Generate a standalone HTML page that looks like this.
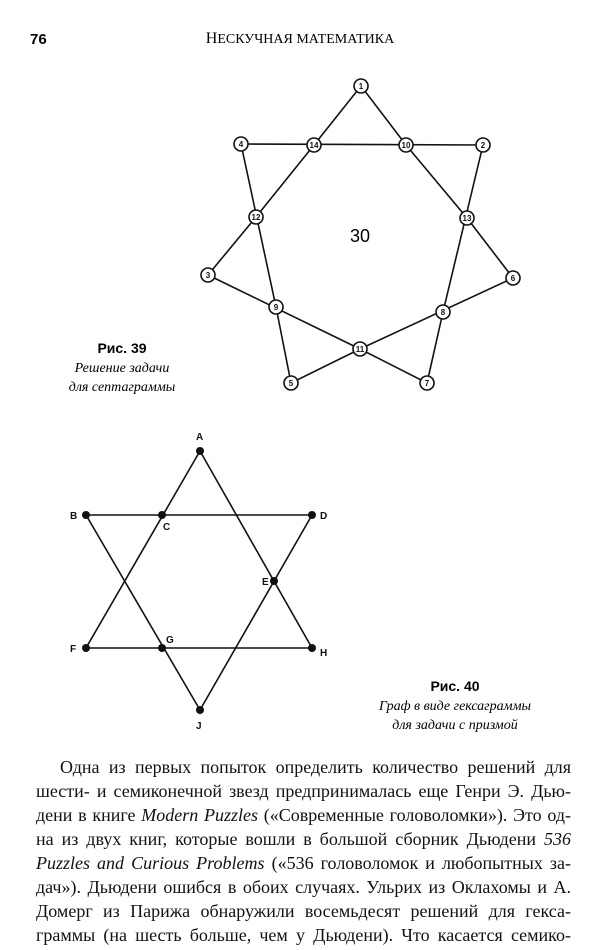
<!DOCTYPE html>
<html><head><meta charset="utf-8"><style>
html,body{margin:0;padding:0;background:#fff;}
body{width:600px;height:950px;position:relative;overflow:hidden;font-family:"Liberation Serif",serif;color:#111;}
svg{position:absolute;left:0;top:0;}
.l{position:absolute;left:36px;width:535px;font-size:18px;line-height:24px;text-align:justify;text-align-last:justify;white-space:nowrap;}
.l i{font-style:italic;}
</style></head><body>
<svg width="600" height="950" viewBox="0 0 600 950" font-family="Liberation Sans, sans-serif">
<text x="30" y="44" font-size="15" font-weight="bold">76</text>
<text x="300" y="43" font-size="14" font-family="Liberation Serif, serif" text-anchor="middle"><tspan font-size="16">Н</tspan>ЕСКУЧНАЯ МАТЕМАТИКА</text>
<g stroke="#111" stroke-width="1.6" fill="none">
<line x1="361" y1="86" x2="314" y2="145"/><line x1="361" y1="86" x2="406" y2="145"/>
<line x1="241" y1="144" x2="483" y2="145"/>
<line x1="241" y1="144" x2="276" y2="307"/><line x1="314" y1="145" x2="256" y2="217"/>
<line x1="256" y1="217" x2="208" y2="275"/><line x1="208" y1="275" x2="360" y2="349"/>
<line x1="276" y1="307" x2="291" y2="383"/><line x1="291" y1="383" x2="360" y2="349"/>
<line x1="360" y1="349" x2="427" y2="383"/><line x1="360" y1="349" x2="513" y2="278"/>
<line x1="427" y1="383" x2="443" y2="312"/><line x1="443" y1="312" x2="483" y2="145"/>
<line x1="406" y1="145" x2="467" y2="218"/><line x1="467" y1="218" x2="513" y2="278"/>
</g>
<g fill="#fff" stroke="#111" stroke-width="1.6">
<circle cx="361" cy="86" r="7"/><circle cx="314" cy="145" r="7"/><circle cx="406" cy="145" r="7"/>
<circle cx="241" cy="144" r="7"/><circle cx="483" cy="145" r="7"/><circle cx="256" cy="217" r="7"/>
<circle cx="467" cy="218" r="7"/><circle cx="208" cy="275" r="7"/><circle cx="513" cy="278" r="7"/>
<circle cx="276" cy="307" r="7"/><circle cx="443" cy="312" r="7"/><circle cx="360" cy="349" r="7"/>
<circle cx="291" cy="383" r="7"/><circle cx="427" cy="383" r="7"/>
</g>
<g font-size="8" font-weight="bold" text-anchor="middle" fill="#111">
<text x="361" y="89">1</text><text x="314" y="148">14</text><text x="406" y="148">10</text>
<text x="241" y="147">4</text><text x="483" y="148">2</text><text x="256" y="220">12</text>
<text x="467" y="221">13</text><text x="208" y="278">3</text><text x="513" y="281">6</text>
<text x="276" y="310">9</text><text x="443" y="315">8</text><text x="360" y="352">11</text>
<text x="291" y="386">5</text><text x="427" y="386">7</text>
</g>
<text x="360" y="242" font-size="18" text-anchor="middle">30</text>
<text x="122" y="353" font-size="14" font-weight="bold" text-anchor="middle">Рис. 39</text>
<text x="122" y="372" font-size="14" font-style="italic" font-family="Liberation Serif, serif" text-anchor="middle">Решение задачи</text>
<text x="122" y="391" font-size="14" font-style="italic" font-family="Liberation Serif, serif" text-anchor="middle">для септаграммы</text>
<g stroke="#111" stroke-width="1.6">
<line x1="200" y1="451" x2="86" y2="648"/><line x1="200" y1="451" x2="312" y2="648"/>
<line x1="86" y1="515" x2="312" y2="515"/><line x1="86" y1="648" x2="312" y2="648"/>
<line x1="86" y1="515" x2="200" y2="710"/><line x1="312" y1="515" x2="200" y2="710"/>
</g>
<g fill="#111">
<circle cx="200" cy="451" r="4"/><circle cx="86" cy="515" r="4"/><circle cx="162" cy="515" r="4"/>
<circle cx="312" cy="515" r="4"/><circle cx="274" cy="581" r="4"/><circle cx="86" cy="648" r="4"/>
<circle cx="162" cy="648" r="4"/><circle cx="312" cy="648" r="4"/><circle cx="200" cy="710" r="4"/>
</g>
<g font-size="10" font-weight="bold" fill="#111">
<text x="196" y="440">A</text><text x="70" y="519">B</text><text x="163" y="530">C</text>
<text x="320" y="519">D</text><text x="262" y="585">E</text><text x="70" y="652">F</text>
<text x="166" y="643">G</text><text x="320" y="656">H</text><text x="196" y="729">J</text>
</g>
<text x="455" y="691" font-size="14" font-weight="bold" text-anchor="middle">Рис. 40</text>
<text x="455" y="710" font-size="14" font-style="italic" font-family="Liberation Serif, serif" text-anchor="middle">Граф в виде гексаграммы</text>
<text x="455" y="729" font-size="14" font-style="italic" font-family="Liberation Serif, serif" text-anchor="middle">для задачи с призмой</text>
</svg>
<div class="l" style="top:755px;left:60px;width:511px">Одна из первых попыток определить количество решений для</div>
<div class="l" style="top:779px">шести- и семиконечной звезд предпринималась еще Генри Э. Дью-</div>
<div class="l" style="top:803px">дени в книге <i>Modern Puzzles</i> («Современные головоломки»). Это од-</div>
<div class="l" style="top:827px">на из двух книг, которые вошли в большой сборник Дьюдени <i>536</i></div>
<div class="l" style="top:851px"><i>Puzzles and Curious Problems</i> («536 головоломок и любопытных за-</div>
<div class="l" style="top:875px">дач»). Дьюдени ошибся в обоих случаях. Ульрих из Оклахомы и А.</div>
<div class="l" style="top:899px">Домерг из Парижа обнаружили восемьдесят решений для гекса-</div>
<div class="l" style="top:923px">граммы (на шесть больше, чем у Дьюдени). Что касается семико-</div>
</body></html>
